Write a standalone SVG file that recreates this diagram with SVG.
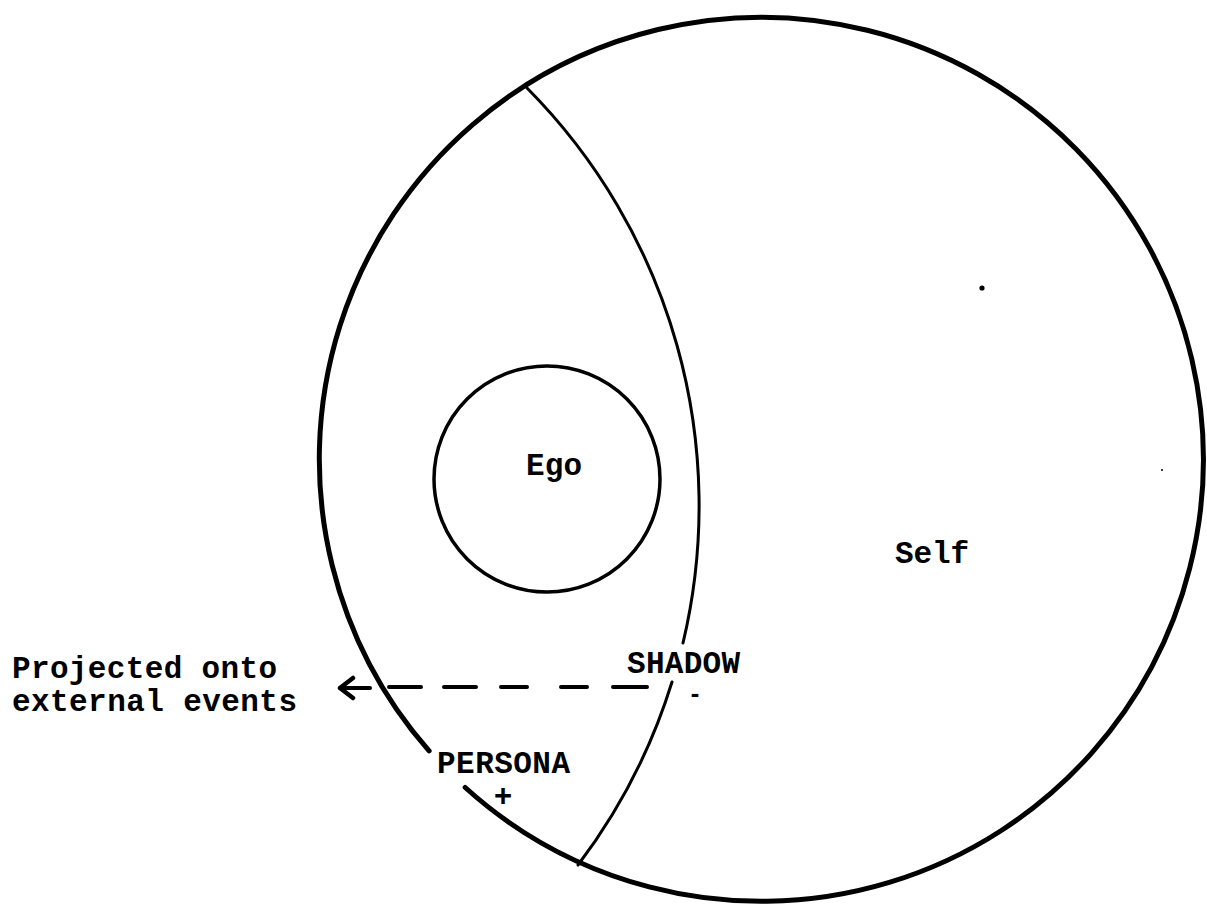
<svg xmlns="http://www.w3.org/2000/svg" width="1207" height="904" viewBox="0 0 1207 904">
<style>
.line{fill:none;stroke:#000;stroke-linecap:round;stroke-linejoin:round}
.t{font-family:"Liberation Mono","Courier New",monospace;font-weight:bold;font-size:31px;fill:#000}
</style>
<defs>
<marker id="ah" markerUnits="userSpaceOnUse" markerWidth="20" markerHeight="28" viewBox="-17 -14 20 28" refX="0" refY="0" orient="auto">
<path d="M -13 -10 L 0 0 L -13 10" fill="none" stroke="#000" stroke-width="4.5" stroke-linecap="round" stroke-linejoin="round"/>
</marker>
</defs>
<rect width="1207" height="904" fill="#fff"/>
<g id="self">
<path class="line" stroke-width="5" d="M 465.2 787.5 A 442 442 0 1 0 429.1 750.9"/>
<text class="t" x="895" y="563" textLength="74">Self</text>
<circle cx="982" cy="288" r="2.6" fill="#000"/>
<circle cx="1162" cy="470" r="1" fill="#000"/>
</g>
<g id="shadow-boundary">
<path class="line" stroke-width="3" d="M 527 88 A 593 593 0 0 1 683 643 M 672 682 A 593 593 0 0 1 578 865"/>
</g>
<g id="ego">
<circle class="line" cx="547" cy="479" r="113" stroke-width="3.5"/>
<text class="t" x="526" y="475" textLength="56">Ego</text>
</g>
<g id="shadow">
<text class="t" x="627" y="673" textLength="113">SHADOW</text>
<text class="t" x="688" y="702" style="font-size:26px" textLength="14" lengthAdjust="spacingAndGlyphs">-</text>
</g>
<g id="persona">
<text class="t" x="437" y="773" textLength="133">PERSONA</text>
<text class="t" x="503" y="806" text-anchor="middle">+</text>
</g>
<g id="projection-label">
<text class="t" x="12" y="678" textLength="265">Projected onto</text>
<text class="t" x="12" y="711" textLength="285">external events</text>
</g>
<g id="connectors">
<path class="line" stroke-width="4" d="M 370 688 L 340 688" marker-end="url(#ah)"/>
<path class="line" stroke-width="4" d="M 389 687 L 421 687 M 444 687 L 476 687 M 501 687 L 527 687 M 561 687 L 587 687 M 613 687 L 647 687"/>
</g>
</svg>
